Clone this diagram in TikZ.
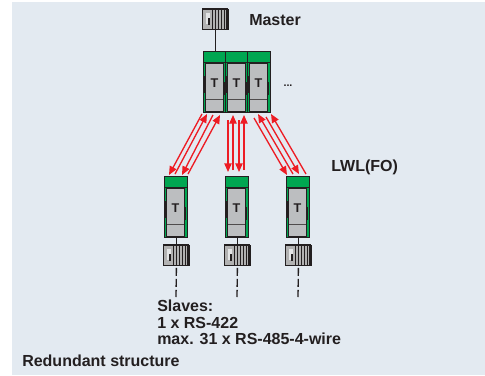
\documentclass[tikz,border=0pt]{standalone}
\usepackage{fontspec}
\setmainfont{Liberation Sans}
\usetikzlibrary{arrows.meta}
\definecolor{panelblue}{RGB}{227,234,241}
\definecolor{modgreen}{RGB}{0,166,81}
\definecolor{modgrey}{RGB}{188,190,192}
\definecolor{linedark}{RGB}{35,31,32}
\definecolor{arrowred}{RGB}{237,28,36}
\tikzset{
  caption/.style={font=\bfseries\fontsize{12}{12.4}\selectfont,text=linedark,anchor=west,inner sep=0pt},
  rail/.style={draw=linedark,line width=1pt,fill=modgreen,minimum width=17.25pt,minimum height=46pt,inner sep=0pt},
  greyface/.style={draw=linedark,line width=0.5pt,fill=modgrey,inner sep=0pt},
  plcbox/.style={draw=linedark,line width=0.6pt,fill=gray!60,minimum width=19.5pt,minimum height=15pt,inner sep=0pt},
  link/.style={draw=linedark,line width=1pt},
  fibre/.style={draw=arrowred,line width=1pt,-{Triangle[length=6.5pt,width=5.5pt]}},
}
% one bus module with its T label: name, x, top y, height
\newcommand{\busmodule}[4]{
  \node[rail,minimum height=#4*0.75pt,anchor=north west] (#1) at (#2,#3) {};
  \fill[linedark] (#2+0.8,#3+25) rectangle (#2+2.6,#3+42);
  \fill[linedark] (#2+20.4,#3+31) rectangle (#2+22.2,#3+44);
  \draw[greyface] (#2+2.8,#3+12) rectangle (#2+20.2,#3+#4-0.5);
  \draw[linedark!80,line width=0.7pt] (#2+2.8,#3+#4-13) -- (#2+20.2,#3+#4-13);
  \draw[linedark,line width=0.8pt] (#2,#3+11.5) -- (#2+23,#3+11.5);
  \node[font=\bfseries\fontsize{9.5}{10}\selectfont,text=linedark,inner sep=0pt] at (#2+11.5,#3+32) {T};
}
% small controller with ribs: name, x, top y
\newcommand{\plcunit}[3]{
  \node[plcbox,anchor=north west] (#1) at (#2,#3) {};
  \fill[modgrey!40] (#2+4,#3+4) rectangle (#2+8,#3+15);
  \fill[linedark] (#2+5.5,#3+9) rectangle (#2+7.5,#3+16);
  \foreach \r in {10.5,13.5,16.5,19.5,22.5,25}
    \draw[linedark,line width=1pt] (#2+\r,#3) -- (#2+\r,#3+20);
  \draw[linedark,line width=1pt] (#2,#3) -- (#2+26,#3);
}
\begin{document}
\begin{tikzpicture}[line cap=butt,x=0.75pt,y=-0.75pt]
  \useasboundingbox (0,0) rectangle (485,375);
  \fill[panelblue] (12,2) rectangle (485,375);
  % master
  \plcunit{master}{202}{9}
  \busmodule{modA}{203}{51}{61}
  \busmodule{modB}{225}{51}{61}
  \busmodule{modC}{247}{51}{61}
  \draw[link] (master.south) -- (modA.north -| master.south);
  \node[caption] (masterlabel) at (249,20) {Master};
  \node[font=\bfseries\fontsize{8}{10}\selectfont,text=linedark,inner sep=0pt] (dots) at (288,86) {...};
  % slaves
  \foreach \n/\x in {a/164,b/225,c/286}{
    \busmodule{slave\n}{\x}{176}{61}
    \plcunit{plc\n}{\x-1}{245}
    \coordinate (end\n) at (\x+12,297);
    \draw[link] (slave\n.south) -- (plc\n.north -| slave\n.south);
    \draw[link,dash pattern=on 6pt off 2.3pt] (plc\n.south) ++(0,2) -- (end\n);
  }
  % fibre pairs
  \foreach \xa/\ya/\xb/\yb in {202/114/169/175,175/174/207/114,213/115/182/175,188/174/220/115,
    228/120/228/172,233/170/233/115,239/120/239/172,244/170/244/115,
    254/118/287/175,293/174/258/114,266/117/299/174,306/174/271/114}
    \draw[fibre] (\xa,\ya) -- (\xb,\yb);
  \node[caption] (fibrelabel) at (331,167) {LWL(FO)};
  \node[caption,align=left,anchor=north west] (slavelabel) at (157,300) {Slaves:\\1 x RS-422\\max. 31 x RS-485-4-wire};
  \node[caption] (structlabel) at (22,361) {Redundant structure};
\end{tikzpicture}
\end{document}
